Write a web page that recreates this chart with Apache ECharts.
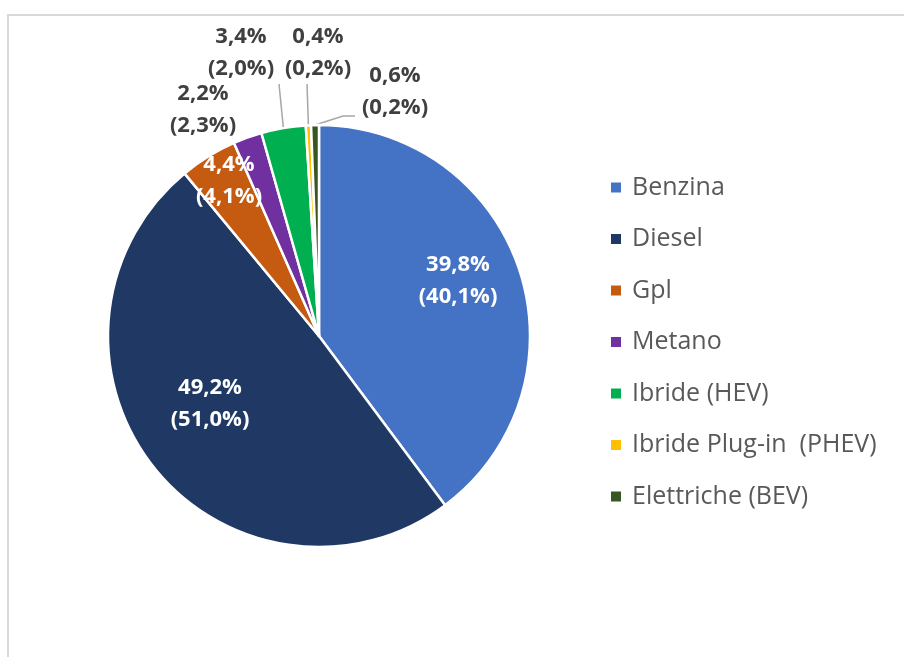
<!DOCTYPE html>
<html>
<head>
<meta charset="utf-8">
<script src="https://cdn.jsdelivr.net/npm/echarts@6/dist/echarts.min.js"></script>
<style>
  html, body { margin: 0; padding: 0; background: #fff; }
  #chart { width: 904px; height: 657px; position: relative; }
  #frame {
    position: absolute; left: 7px; top: 14px; right: -10px; bottom: -10px;
    border-left: 2px solid #d9d9d9; border-top: 2px solid #d9d9d9;
    pointer-events: none;
  }
</style>
</head>
<body>
<div id="chart"></div>
<div id="frame"></div>
<script>
// quote per alimentazione (valore, e valore tra parentesi)
let categories = ['Benzina', 'Diesel', 'Gpl', 'Metano', 'Ibride (HEV)', 'Ibride Plug-in  (PHEV)', 'Elettriche (BEV)'];
let shares = [39.8, 49.2, 4.4, 2.2, 3.4, 0.4, 0.6];
let prevShares = [40.1, 51.0, 4.1, 2.3, 2.0, 0.2, 0.2];
let colors = ['#4472C4', '#203864', '#C55A11', '#7030A0', '#00B050', '#FFC000', '#375623'];

// dove va l'etichetta di ogni fetta (centro del blocco di testo)
let labelSpots = [[458, 281], [210, 404], [229, 181], [203, 110], [241, 53], [318, 53], [395, 92]];
let insideLabel = [true, true, true, false, false, false, false];
// fine della linea guida, rispetto al centro dell'etichetta (null = niente linea)
let leaderEnds = [null, null, null, null, [[38, 31]], [[-11, 31]], [[-52, 24], [-40, 24]]];

let cx = 319, cy = 336, R = 211;

function fmt(v) {
    return v.toFixed(1).replace('.', ',') + '%';
}

// angolo medio della fetta (in gradi, da ore 12 in senso orario)
function midAngle(i) {
    let total = shares.reduce(function (a, b) { return a + b; }, 0);
    let before = 0;
    for (let k = 0; k < i; k++) before += shares[k];
    return (before + shares[i] / 2) / total * 360;
}

let chart = echarts.init(document.getElementById('chart'));

let data = categories.map(function (name, i) {
    return {
        name: name,
        value: shares[i],
        itemStyle: { color: colors[i] },
        label: {
            position: insideLabel[i] ? 'inside' : 'outside',
            color: insideLabel[i] ? '#ffffff' : '#404040'
        },
        labelLine: { show: leaderEnds[i] != null }
    };
});

let option = {
    animation: false,
    legend: {
        orient: 'vertical',
        left: 604,
        top: 170,
        icon: 'rect',
        itemWidth: 12,
        itemHeight: 12,
        itemGap: 26.5,
        data: categories,
        textStyle: {
            fontFamily: 'Open Sans',
            fontSize: 25,
            lineHeight: 25,
            color: '#595959',
            padding: [0, 0, 0, 5]
        }
    },
    series: [{
        type: 'pie',
        center: [cx, cy],
        radius: R,
        startAngle: 90,
        clockwise: true,
        itemStyle: {
            borderColor: '#ffffff',
            borderWidth: 2.5
        },
        label: {
            show: true,
            fontFamily: 'Open Sans',
            fontWeight: 'bold',
            fontSize: 22,
            lineHeight: 32,
            align: 'center',
            formatter: function (p) {
                return fmt(shares[p.dataIndex]) + '\n(' + fmt(prevShares[p.dataIndex]) + ')';
            }
        },
        labelLine: {
            length: 20,
            length2: 10,
            lineStyle: { color: '#a6a6a6', width: 1.5 }
        },
        labelLayout: function (params) {
            let i = params.dataIndex;
            let p = labelSpots[i];
            let out = {
                x: p[0],
                y: p[1],
                align: 'center',
                verticalAlign: 'middle'
            };
            if (leaderEnds[i]) {
                let a = midAngle(i) * Math.PI / 180;
                let pts = [[cx + R * Math.sin(a), cy - R * Math.cos(a)]];
                leaderEnds[i].forEach(function (e) {
                    pts.push([p[0] + e[0], p[1] + e[1]]);
                });
                if (pts.length < 3) pts.push(pts[pts.length - 1].slice());
                out.labelLinePoints = pts;
            }
            return out;
        },
        data: data
    }]
};

chart.setOption(option);
</script>
</body>
</html>
